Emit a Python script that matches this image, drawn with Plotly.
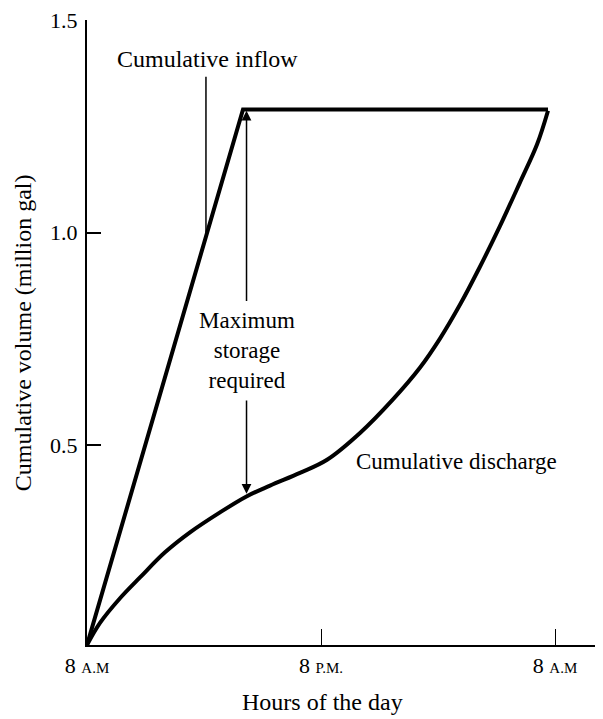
import plotly.graph_objects as go

# ---- data (hours after 8 A.M., million gal) ----
inflow_hours = [0.0, 8.0, 23.64]
inflow_volume = [0.03, 1.29, 1.29]

discharge_hours = [0.0, 0.667, 1.692, 2.718, 4.0, 5.282, 6.82, 8.154, 9.385, 10.92, 12.31,
                   14.0, 15.69, 17.08, 18.10, 19.13, 20.15, 21.18, 22.21, 23.08, 23.64]
discharge_volume = [0.030, 0.082, 0.140, 0.189, 0.248, 0.295, 0.342, 0.379, 0.405, 0.435, 0.466,
                    0.529, 0.608, 0.683, 0.751, 0.831, 0.920, 1.016, 1.119, 1.208, 1.287]

x_tickvals = [0, 12, 24]
x_ticktext = ['8 <span style="font-size:15px">A.M</span>',
              '8 <span style="font-size:15px">P.M.</span>',
              '8 <span style="font-size:15px">A.M</span>']
y_tickvals = [0.5, 1.0, 1.5]
y_ticktext = ["0.5", "1.0", "1.5"]

# annotation anchors (data coordinates)
storage_hour = 8.18
storage_top = 1.287
storage_bottom = 0.386
storage_text_top = 0.836
storage_text_bottom = 0.609
storage_label_y = 0.723

inflow_label = (6.18, 1.409)
inflow_pointer = (6.10, 1.367, 1.0)
discharge_label = (18.97, 0.461)

FONT = "Liberation Serif"

fig = go.Figure()
fig.add_trace(go.Scatter(x=inflow_hours, y=inflow_volume, mode="lines",
                         line=dict(color="black", width=4), showlegend=False,
                         hoverinfo="skip"))
fig.add_trace(go.Scatter(x=discharge_hours, y=discharge_volume, mode="lines",
                         line=dict(color="black", width=4, shape="spline", smoothing=1.0),
                         showlegend=False, hoverinfo="skip"))

# pointer line for inflow label
fig.add_trace(go.Scatter(x=[inflow_pointer[0], inflow_pointer[0]],
                         y=[inflow_pointer[1], inflow_pointer[2]], mode="lines",
                         line=dict(color="black", width=1.5), showlegend=False,
                         hoverinfo="skip"))

annotations = [
    dict(x=storage_hour, y=storage_top, ax=storage_hour, ay=storage_text_top,
         xref="x", yref="y", axref="x", ayref="y", text="", showarrow=True,
         arrowhead=2, arrowsize=1.3, arrowwidth=1.5, arrowcolor="black"),
    dict(x=storage_hour, y=storage_bottom, ax=storage_hour, ay=storage_text_bottom,
         xref="x", yref="y", axref="x", ayref="y", text="", showarrow=True,
         arrowhead=2, arrowsize=1.3, arrowwidth=1.5, arrowcolor="black"),
    dict(x=storage_hour, y=storage_label_y, xref="x", yref="y",
         text="Maximum<br>storage<br>required", showarrow=False,
         font=dict(family=FONT, size=23, color="black"), align="center"),
    dict(x=inflow_label[0], y=inflow_label[1], xref="x", yref="y",
         text="Cumulative inflow", showarrow=False,
         font=dict(family=FONT, size=24, color="black")),
    dict(x=discharge_label[0], y=discharge_label[1], xref="x", yref="y",
         text="Cumulative discharge", showarrow=False,
         font=dict(family=FONT, size=23, color="black")),
    dict(x=-0.124, y=0.499, xref="paper", yref="paper", textangle=-90,
         text="Cumulative volume (million gal)", showarrow=False,
         xanchor="center", yanchor="middle",
         font=dict(family=FONT, size=24, color="black")),
    dict(x=0.457, y=-0.091, xref="paper", yref="paper",
         text="Hours of the day", showarrow=False,
         xanchor="center", yanchor="middle",
         font=dict(family=FONT, size=24, color="black")),
]

fig.update_layout(
    width=595, height=711,
    margin=dict(l=79, r=0, t=10, b=74),
    plot_bgcolor="white", paper_bgcolor="white",
    font=dict(family=FONT, size=22, color="black"),
    annotations=annotations,
    xaxis=dict(range=[0, 26.46], showgrid=False, zeroline=False,
               showline=True, linecolor="black", linewidth=2,
               ticks="inside", ticklen=16, tickwidth=1, tickcolor="black",
               tickvals=x_tickvals, ticktext=x_ticktext,
               tickfont=dict(family=FONT, size=22, color="black")),
    yaxis=dict(range=[0.03, 1.5005], showgrid=False, zeroline=False,
               showline=True, linecolor="black", linewidth=2,
               ticks="inside", ticklen=14, tickwidth=2, tickcolor="black",
               tickvals=y_tickvals, ticktext=y_ticktext, ticklabelstandoff=3,
               ticklabeloverflow="allow",
               tickfont=dict(family=FONT, size=22, color="black")),
)

fig.write_html("out.html")
